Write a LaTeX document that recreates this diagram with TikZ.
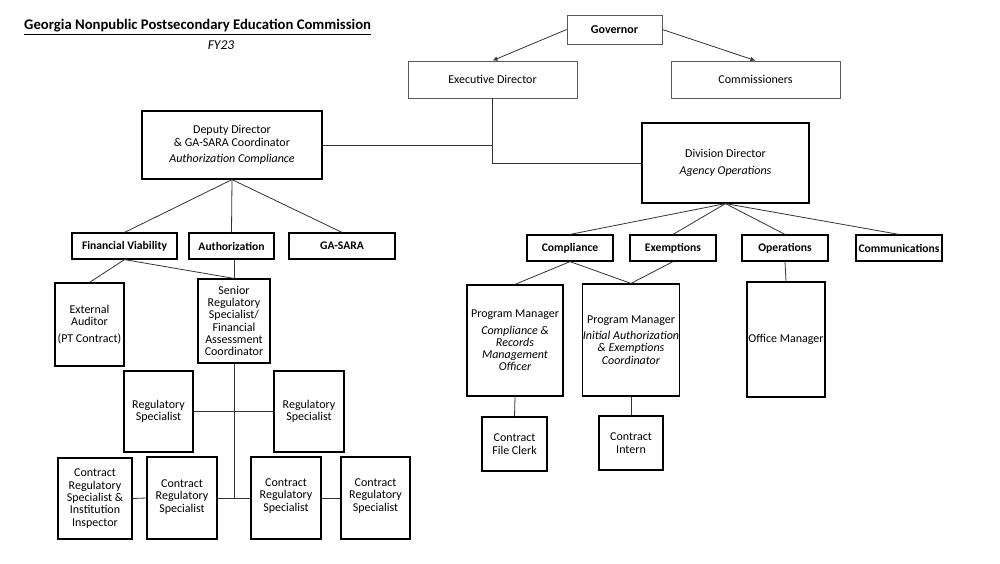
\documentclass[tikz,border=0pt]{standalone}
\usepackage{fontspec}
\setmainfont{Carlito}
\usetikzlibrary{arrows.meta}
\begin{document}
\begin{tikzpicture}[x=1pt,y=-1pt,
  box/.style={draw=black,line width=1.2pt,inner sep=0pt,align=center,font=\fontsize{12}{12.3}\selectfont},
  topbox/.style={box,draw=black!65,line width=0.8pt},
  hdr/.style={box,font=\fontsize{11.6}{12.3}\selectfont\bfseries},
  conn/.style={draw=black!80,line width=0.8pt},
  arr/.style={conn,-{Latex[length=5pt,width=4.5pt]}}]
\useasboundingbox[fill=white] (0,0) rectangle (1000,563);
% title
\node[anchor=west,inner sep=0pt,font=\fontsize{14.7}{15}\selectfont\bfseries] (title) at (24,27) {\underline{Georgia Nonpublic Postsecondary Education Commission}};
\node[inner sep=0pt,font=\fontsize{13.5}{14}\selectfont\itshape] (fy) at (221,45.5) {FY23};
% top
\node[topbox,font=\fontsize{12}{12.3}\selectfont\bfseries,minimum width=95,minimum height=29] (gov) at (614.5,29.5) {Governor};
\node[topbox,minimum width=169,minimum height=37] (exec) at (492.5,79.5) {Executive Director};
\node[topbox,minimum width=169,minimum height=37] (comm) at (755.5,79.5) {Commissioners};
\node[box,minimum width=180,minimum height=68] (dep) at (232,145) {Deputy Director\\ \& GA-SARA Coordinator\\[4pt] \textit{Authorization Compliance}};
\node[box,minimum width=167,minimum height=80] (div) at (725.5,163) {Division Director\\[5pt] \textit{Agency Operations}};
% headers left
\node[hdr,minimum width=105,minimum height=26] (finv) at (124.5,246) {Financial Viability};
\node[hdr,minimum width=85,minimum height=26] (auth) at (231.5,246) {Authorization};
\node[hdr,minimum width=106,minimum height=26] (gasara) at (342,246) {GA-SARA};
% headers right
\node[hdr,minimum width=86,minimum height=26] (compl) at (570,248) {Compliance};
\node[hdr,minimum width=86,minimum height=26] (exemp) at (673,248) {Exemptions};
\node[hdr,minimum width=86,minimum height=26] (oper) at (785,248) {Operations};
\node[hdr,minimum width=86,minimum height=26] (commun) at (899,248) {Communications};
% left lower
\node[box,minimum width=69,minimum height=83] (ext) at (89.5,324.5) {External\\ Auditor\\[5pt] (PT Contract)};
\node[box,minimum width=72,minimum height=84] (sen) at (234,321) {Senior\\ Regulatory\\ Specialist/\\ Financial\\ Assessment\\ Coordinator};
\node[box,minimum width=69,minimum height=81] (regl) at (158.5,411.5) {Regulatory\\ Specialist};
\node[box,minimum width=70,minimum height=81] (regr) at (309,411.5) {Regulatory\\ Specialist};
\node[box,minimum width=74,minimum height=81] (crs1) at (95,498.5) {Contract\\ Regulatory\\ Specialist \&\\ Institution\\ Inspector};
\node[box,minimum width=70,minimum height=82] (crs2) at (182,498) {Contract\\ Regulatory\\ Specialist\\[-8pt]\mbox{}};
\node[box,minimum width=70,minimum height=82] (crs3) at (286,498) {Contract\\ Regulatory\\ Specialist\\[-6pt]\mbox{}};
\node[box,minimum width=69,minimum height=82] (crs4) at (375.5,498) {Contract\\ Regulatory\\ Specialist\\[-6pt]\mbox{}};
% right lower
\node[box,minimum width=96,minimum height=111] (pm1) at (515,340.5) {Program Manager\\[4pt] \textit{Compliance \&}\\ \textit{Records}\\ \textit{Management}\\ \textit{Officer}};
\node[box,minimum width=96,minimum height=112] (pm2) at (631,340) {Program Manager\\[4pt] \textit{Initial Authorization}\\ \textit{\& Exemptions}\\ \textit{Coordinator}};
\node[box,minimum width=78,minimum height=115] (off) at (786,339.5) {Office Manager};
\node[box,minimum width=65,minimum height=54] (clerk) at (514.5,444) {Contract\\ File Clerk};
\node[box,minimum width=64,minimum height=54] (intern) at (631,443) {Contract\\ Intern};
% connectors
\draw[arr] (gov.west) -- (exec.north);
\draw[arr] (gov.east) -- (comm.north);
\draw[conn] (exec.south) |- (div.west);
\coordinate (dj) at (dep.east -| exec.south);
\draw[conn] (dep.east) -- (dj);
\draw[conn] (dep.south) -- (finv.north);
\draw[conn] (dep.south) -- (auth.north);
\draw[conn] (dep.south) -- (gasara.north);
\draw[conn] (finv.south) -- (ext.north);
\draw[conn] (finv.south) -- (sen.north);
\draw[conn] (sen.north |- auth.south) -- (sen.north);
\coordinate (sj) at (sen.south |- crs2.east);
\draw[conn] (sen.south) -- (sj);
\draw[conn] (regl.east) -- (regr.west);
\draw[conn] (crs1.east) -- (crs2.west);
\draw[conn] (crs2.east) -- (crs3.west);
\draw[conn] (crs3.east) -- (crs4.west);
\draw[conn] (div.south) -- (compl.north);
\draw[conn] (div.south) -- (exemp.north);
\draw[conn] (div.south) -- (oper.north);
\draw[conn] (div.south) -- (commun.north);
\draw[conn] (compl.south) -- (pm1.north);
\draw[conn] (compl.south) -- (pm2.north);
\draw[conn] (exemp.south) -- (pm2.north);
\draw[conn] (oper.south) -- (off.north);
\draw[conn] (pm1.south) -- (clerk.north);
\draw[conn] (pm2.south) -- (intern.north);
\end{tikzpicture}
\end{document}
